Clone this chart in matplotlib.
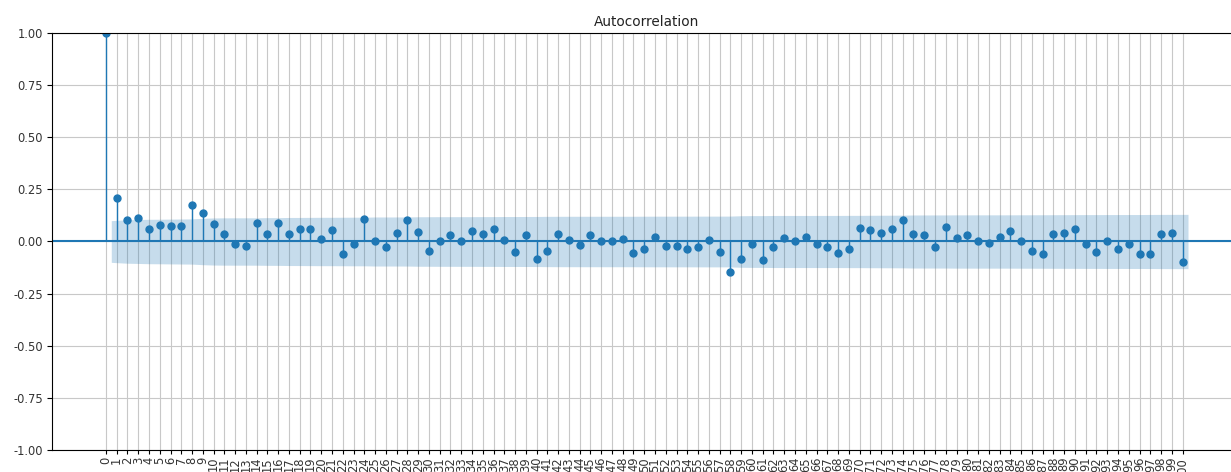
import numpy as np
import matplotlib
matplotlib.use("Agg")
import matplotlib.pyplot as plt

# ACF values for lags 0..100
lags = list(range(0, 101))
acf_values = [
    1.000, 0.208, 0.103, 0.115, 0.062, 0.079, 0.075, 0.072, 0.175, 0.136,
    0.083, 0.035, -0.010, -0.021, 0.091, 0.038, 0.091, 0.038, 0.062, 0.062,
    0.012, 0.054, -0.058, -0.013, 0.110, 0.000, -0.026, 0.040, 0.104, 0.045,
    -0.045, 0.003, 0.032, 0.003, 0.051, 0.035, 0.058, 0.008, -0.048, 0.032,
    -0.083, -0.046, 0.035, 0.008, -0.016, 0.032, 0.000, 0.003, 0.014, -0.056,
    -0.037, 0.022, -0.022, -0.022, -0.035, -0.026, 0.008, -0.048, -0.146, -0.083,
    -0.013, -0.090, -0.027, 0.019, 0.003, 0.022, -0.010, -0.026, -0.054, -0.035,
    0.067, 0.056, 0.040, 0.058, 0.104, 0.035, 0.029, -0.026, 0.070, 0.018,
    0.032, 0.000, -0.006, 0.022, 0.051, 0.003, -0.045, -0.058, 0.035, 0.043,
    0.059, -0.010, -0.048, 0.003, -0.037, -0.010, -0.058, -0.058, 0.038, 0.042,
    -0.096,
]
n_obs = 384  # sample size implied by the band width at lag 1
title = "Autocorrelation"

lags_arr = np.array(lags, dtype=float)
acf_arr = np.array(acf_values)

# Bartlett confidence band (as statsmodels does)
var = np.ones_like(acf_arr) / n_obs
var[0] = 0
var[1] = 1.0 / n_obs
var[2:] = (1 + 2 * np.cumsum(acf_arr[1:-1] ** 2)) / n_obs
half = 1.96 * np.sqrt(var)

fig = plt.figure(figsize=(12.31, 4.72), dpi=100)
ax = fig.add_axes([0.0423, 0.0466, 0.9665, 0.8835])

ax.grid(True, color="#c8c8c8", linewidth=0.8)
ax.set_axisbelow(True)

ax.vlines(lags_arr, 0, acf_arr, color="C0", linewidth=1.0)
ax.plot(lags_arr, acf_arr, "o", color="C0", markersize=5)
ax.axhline(0, color="C0", linewidth=1.5)

band_x = lags_arr[1:].copy()
band_x[0] -= 0.5
band_x[-1] += 0.5
ax.fill_between(band_x, -half[1:], half[1:], color="C0", alpha=0.25, linewidth=0)

ax.set_xlim(-5.0, 105.5)
ax.set_ylim(-1, 1)
ax.set_xticks(lags)
ax.set_xticklabels([str(l) for l in lags], rotation=90, fontsize=8.3, color="#333333")
ax.set_yticks(np.arange(-1, 1.01, 0.25))
ax.set_yticklabels([f"{v:.2f}" for v in np.arange(-1, 1.01, 0.25)], fontsize=8.3, color="#333333")
ax.tick_params(axis="x", length=3, pad=2)
ax.tick_params(axis="y", length=3.5, pad=3)
ax.set_title(title, fontsize=9.8, pad=5, color="#222222")

fig.savefig("out.png", dpi=100)
